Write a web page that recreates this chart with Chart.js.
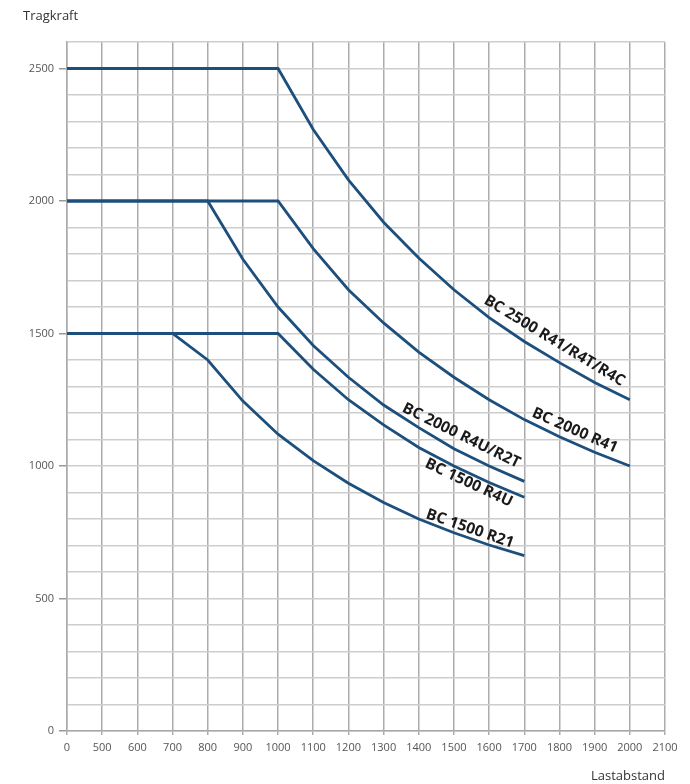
<!DOCTYPE html>
<html>
<head>
<meta charset="utf-8">
<script src="https://cdn.jsdelivr.net/npm/chart.js@4.4.0/dist/chart.umd.min.js"></script>
<style>
  html, body { margin: 0; padding: 0; background: #fff; }
</style>
</head>
<body>
<canvas id="tragkraftChart" width="690" height="784"></canvas>
<script>
// x axis is not linear: 0, then 500..2100 in steps of 100
const loadDistances = [0, 500, 600, 700, 800, 900, 1000, 1100, 1200, 1300, 1400, 1500, 1600, 1700, 1800, 1900, 2000, 2100];
const yTickLabels = [0, 500, 1000, 1500, 2000, 2500];

const seriesNames = ['BC 2500 R41/R4T/R4C', 'BC 2000 R41', 'BC 2000 R4U/R2T', 'BC 1500 R4U', 'BC 1500 R21'];

const bc2500R41 = [2500, 2500, 2500, 2500, 2500, 2500, 2500, 2270, 2080, 1920, 1785, 1665, 1560, 1470, 1390, 1315, 1250, null];
const bc2000R41 = [2000, 2000, 2000, 2000, 2000, 2000, 2000, 1820, 1665, 1540, 1430, 1335, 1250, 1175, 1110, 1052, 1000, null];
const bc2000R4U = [2000, 2000, 2000, 2000, 2000, 1780, 1600, 1455, 1335, 1230, 1145, 1065, 1000, 942, null, null, null, null];
const bc1500R4U = [1500, 1500, 1500, 1500, 1500, 1500, 1500, 1365, 1250, 1155, 1070, 1000, 938, 882, null, null, null, null];
const bc1500R21 = [1500, 1500, 1500, 1500, 1400, 1245, 1120, 1020, 935, 862, 800, 748, 702, 662, null, null, null, null];

// where each name sits along its curve (load distance) and how far off the line
const labelSpots = [
    {series: 0, at: 1762, lift: 16},
    {series: 1, at: 1830, lift: 12},
    {series: 2, at: 1502, lift: 15},
    {series: 3, at: 1553, lift: -9},
    {series: 4, at: 1537, lift: 9}
];

const lineColor = '#1d4f7c';

function distanceToIndex(d) {
    for (let i = 0; i < loadDistances.length - 1; i++) {
        if (d >= loadDistances[i] && d <= loadDistances[i + 1]) {
            return i + (d - loadDistances[i]) / (loadDistances[i + 1] - loadDistances[i]);
        }
    }
    return loadDistances.length - 1;
}

const curveLabels = {
    id: 'curveLabels',
    afterDatasetsDraw(chart) {
        const ctx = chart.ctx;
        const xs = chart.scales.x, ys = chart.scales.y;
        ctx.save();
        ctx.fillStyle = '#1a1a1a';
        ctx.font = 'bold 15.5px "Open Sans"';
        ctx.textAlign = 'center';
        ctx.textBaseline = 'middle';
        labelSpots.forEach(spot => {
            const vals = chart.data.datasets[spot.series].data;
            const pos = distanceToIndex(spot.at);
            const i = Math.floor(pos), f = pos - i;
            const x0 = xs.getPixelForValue(i), x1 = xs.getPixelForValue(i + 1);
            const y0 = ys.getPixelForValue(vals[i]), y1 = ys.getPixelForValue(vals[i + 1]);
            const ang = Math.atan2(y1 - y0, x1 - x0);
            const ax = x0 + (x1 - x0) * f, ay = y0 + (y1 - y0) * f;
            ctx.save();
            ctx.translate(ax + spot.lift * Math.sin(ang), ay - spot.lift * Math.cos(ang));
            ctx.rotate(ang);
            ctx.fillText(seriesNames[spot.series], 0, 0);
            ctx.restore();
        });
        // y axis caption top left
        ctx.font = '13px "Open Sans"';
        ctx.fillStyle = '#333';
        ctx.textAlign = 'left';
        ctx.fillText('Tragkraft', 23, 16);
        ctx.restore();
    }
};

const allSeries = [bc2500R41, bc2000R41, bc2000R4U, bc1500R4U, bc1500R21];

new Chart(document.getElementById('tragkraftChart'), {
    type: 'line',
    data: {
        labels: loadDistances.map(String),
        datasets: allSeries.map((vals, k) => ({
            label: seriesNames[k],
            data: vals,
            borderColor: lineColor,
            borderWidth: 2.8,
            pointRadius: 0,
            tension: 0,
            fill: false
        }))
    },
    options: {
        responsive: false,
        animation: false,
        devicePixelRatio: 1,
        layout: {padding: {top: 42, right: 25, left: 0, bottom: 0}},
        plugins: {
            legend: {display: false},
            tooltip: {enabled: false}
        },
        scales: {
            x: {
                offset: false,
                afterFit: scale => { scale.height = 53; },
                grid: {color: '#ababab', lineWidth: 1.5, tickLength: 4, tickColor: '#ababab'},
                border: {color: '#a8a8a8', width: 1.5},
                ticks: {
                    autoSkip: false,
                    maxRotation: 0,
                    padding: 6,
                    color: '#555',
                    font: {family: 'Open Sans', size: 11}
                },
                title: {
                    display: true,
                    text: 'Lastabstand',
                    align: 'end',
                    color: '#333',
                    font: {family: 'Open Sans', size: 13},
                    padding: {top: 10, bottom: 0}
                }
            },
            y: {
                min: 0,
                max: 2600,
                afterFit: scale => { scale.width = 67; },
                grid: {
                    color: '#cdcdcd',
                    lineWidth: 1.5,
                    tickLength: 8,
                    tickColor: c => yTickLabels.includes(c.tick.value) ? '#999' : 'rgba(0,0,0,0)'
                },
                border: {color: '#ababab', width: 1.5},
                ticks: {
                    stepSize: 100,
                    autoSkip: false,
                    padding: 5,
                    color: '#555',
                    font: {family: 'Open Sans', size: 11},
                    callback: v => yTickLabels.includes(v) ? String(v) : ''
                }
            }
        }
    },
    plugins: [curveLabels]
});
</script>
</body>
</html>
